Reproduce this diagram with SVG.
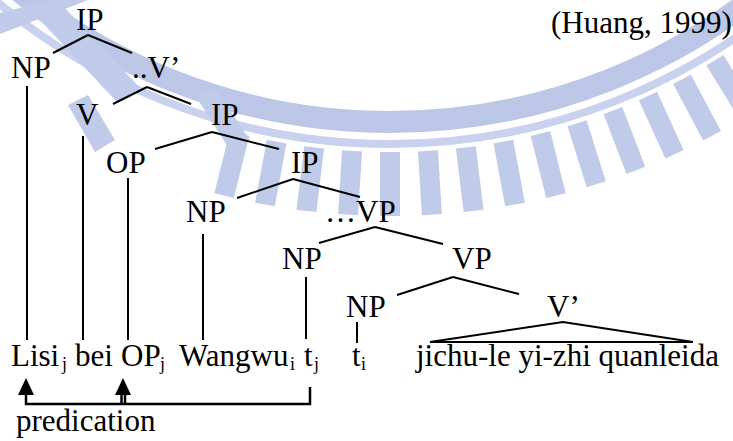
<svg xmlns="http://www.w3.org/2000/svg" width="733" height="441" viewBox="0 0 733 441">
<style>
text{font-family:"Liberation Serif","Times New Roman",serif;font-size:31px;fill:#000}
.sub{font-size:18px}
.e{stroke:#000;stroke-width:2;fill:none}
.b{stroke:#000;stroke-width:2.5;fill:none}
.wm{fill:#c0cae9}
</style>
<rect width="733" height="441" fill="#fff"/>
<g id="watermark">
<g transform="translate(390,-470)">
<circle r="592" fill="none" stroke="#bcc7e7" stroke-width="22"/>
<circle r="614" fill="none" stroke="#c8d1ed" stroke-width="8"/>
<g class="wm">
<rect x="-10" y="622" width="20" height="64" transform="rotate(-31.5)"/>
<rect x="-10" y="622" width="20" height="64" transform="rotate(-28)"/>
<rect x="-10" y="622" width="20" height="64" transform="rotate(-24.5)"/>
<rect x="-10" y="622" width="20" height="64" transform="rotate(-21)"/>
<rect x="-10" y="622" width="20" height="64" transform="rotate(-17.5)"/>
<rect x="-10" y="622" width="20" height="64" transform="rotate(-14)"/>
<rect x="-10" y="622" width="20" height="64" transform="rotate(-10.5)"/>
<rect x="-10" y="622" width="20" height="64" transform="rotate(-7)"/>
<rect x="-10" y="622" width="20" height="64" transform="rotate(-3.5)"/>
<rect x="-10" y="622" width="20" height="64"/>
<rect x="-10" y="622" width="20" height="64" transform="rotate(3.5)"/>
<rect x="-10" y="622" width="20" height="64" transform="rotate(7)"/>
<rect x="-10" y="622" width="20" height="64" transform="rotate(10.5)"/>
<rect x="-10" y="622" width="20" height="64" transform="rotate(14)"/>
</g>
</g>
<g class="wm">
<polygon points="0,13 0,34 88,0 50,0"/>
<polygon points="40,20 62,5 140,88 118,103"/>
<polygon points="68,105 88,95 115,140 95,152"/>
<polygon points="195,95 215,88 250,140 230,150"/>
</g>
</g>
<g id="connectors">
<line class="e" x1="88" y1="35" x2="53" y2="53"/>
<line class="e" x1="88" y1="35" x2="132" y2="53"/>
<line class="e" x1="147" y1="87" x2="113" y2="104"/>
<line class="e" x1="147" y1="87" x2="191" y2="104"/>
<line class="e" x1="212" y1="132" x2="155" y2="149"/>
<line class="e" x1="212" y1="132" x2="279" y2="149"/>
<line class="e" x1="293" y1="179" x2="237" y2="198"/>
<line class="e" x1="293" y1="179" x2="360" y2="197"/>
<line class="e" x1="375" y1="227" x2="319" y2="243"/>
<line class="e" x1="375" y1="227" x2="443" y2="244"/>
<line class="e" x1="453" y1="277" x2="397" y2="295"/>
<line class="e" x1="453" y1="277" x2="519" y2="294"/>
<polygon class="e" points="430,342 563,322 693,342"/>
<line class="e" x1="27" y1="86" x2="27" y2="340"/>
<line class="e" x1="83" y1="136" x2="83" y2="340"/>
<line class="e" x1="128" y1="178" x2="128" y2="340"/>
<line class="e" x1="203" y1="234" x2="203" y2="340"/>
<line class="e" x1="306" y1="277" x2="306" y2="339"/>
<line class="e" x1="357" y1="322" x2="357" y2="343"/>
<g id="predication-bracket">
<polyline class="b" points="26,394 26,404 310,404 310,387"/>
<line class="b" x1="121.5" y1="394" x2="121.5" y2="404" stroke-width="1.5"/>
<line class="b" x1="125" y1="394" x2="125" y2="404" stroke-width="1.5"/>
<polygon points="26,378 18,395 34,395" fill="#000"/>
<polygon points="123,378 115,395 131,395" fill="#000"/>
</g>
</g>
<g id="n-ip1"><text x="76" y="30">IP</text></g>
<g id="citation"><text x="551" y="33">(Huang, 1999)</text></g>
<g id="n-np1"><text x="11" y="78">NP</text></g>
<g id="n-vbar1"><text x="132" y="78">..V’</text></g>
<g id="n-v"><text x="76" y="125">V</text></g>
<g id="n-ip2"><text x="211" y="125">IP</text></g>
<g id="n-op"><text x="106" y="173">OP</text></g>
<g id="n-ip3"><text x="291" y="173">IP</text></g>
<g id="n-np2"><text x="186" y="222">NP</text></g>
<g id="n-vp1"><text x="325" y="222">…VP</text></g>
<g id="n-np3"><text x="282" y="269">NP</text></g>
<g id="n-vp2"><text x="452" y="269">VP</text></g>
<g id="n-np4"><text x="346" y="317">NP</text></g>
<g id="n-vbar2"><text x="547" y="317">V’</text></g>
<g id="words">
<text x="11" y="366">Lisi</text><text class="sub" x="62" y="370">j</text>
<text x="75" y="366">bei</text>
<text x="121" y="366">OP</text><text class="sub" x="160" y="370">j</text>
<text x="179" y="366">Wangwu</text><text class="sub" x="290" y="370">i</text>
<text x="304" y="366">t</text><text class="sub" x="314" y="370">j</text>
<text x="352" y="366">t</text><text class="sub" x="361" y="370">i</text>
<text x="416" y="366">jichu-le yi-zhi quanleida</text>
</g>
<g id="predication"><text x="16" y="431">predication</text></g>
</svg>
